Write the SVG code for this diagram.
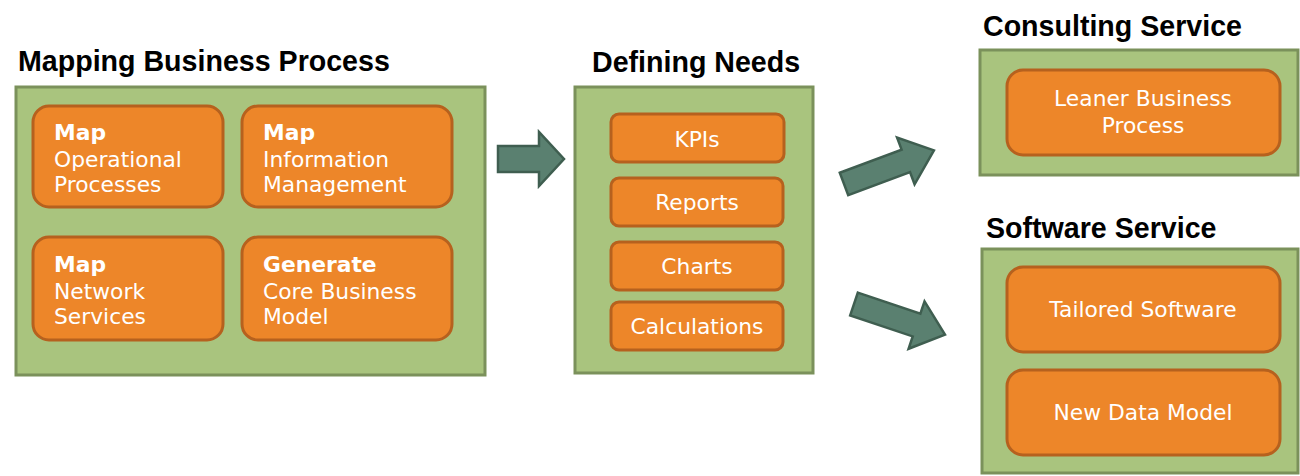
<svg xmlns="http://www.w3.org/2000/svg" width="1300" height="476" viewBox="0 0 1300 476">
<style>
.panel{fill:#a9c47e;stroke:#7b915b;stroke-width:3}
.box{fill:#ed8629;stroke:#b6611e;stroke-width:3}
.title{font-family:"Liberation Sans",Arial,sans-serif;font-weight:bold;font-size:28.6px;fill:#000}
.t{font-family:"DejaVu Sans","Liberation Sans",sans-serif;font-size:21.8px;fill:#fff}
.b{font-weight:bold}
.c{text-anchor:middle}
.arrow{fill:#5a8070;stroke:#3f5e50;stroke-width:2.5;stroke-linejoin:miter}
</style>
<rect width="1300" height="476" fill="#fff"/>
<g id="mapping">
<text class="title" x="18" y="71">Mapping Business Process</text>
<rect class="panel" x="16" y="87" width="469" height="288"/>
</g>
<g id="map-operational">
<rect class="box" x="33" y="106" width="190" height="101" rx="16"/>
<text class="t" x="54" y="140"><tspan class="b">Map</tspan><tspan x="54" y="167">Operational</tspan><tspan x="54" y="192">Processes</tspan></text>
</g>
<g id="map-information">
<rect class="box" x="242" y="106" width="210" height="101" rx="16"/>
<text class="t" x="263" y="140"><tspan class="b">Map</tspan><tspan x="263" y="167">Information</tspan><tspan x="263" y="192">Management</tspan></text>
</g>
<g id="map-network">
<rect class="box" x="33" y="237" width="190" height="103" rx="16"/>
<text class="t" x="54" y="272"><tspan class="b">Map</tspan><tspan x="54" y="299">Network</tspan><tspan x="54" y="324">Services</tspan></text>
</g>
<g id="generate-core">
<rect class="box" x="242" y="237" width="210" height="103" rx="16"/>
<text class="t" x="263" y="272"><tspan class="b">Generate</tspan><tspan x="263" y="299">Core Business</tspan><tspan x="263" y="324">Model</tspan></text>
</g>
<g id="defining">
<text class="title" x="592" y="72">Defining Needs</text>
<rect class="panel" x="575" y="87" width="238" height="286"/>
</g>
<g id="kpis">
<rect class="box" x="611" y="114" width="173" height="48" rx="8"/>
<text class="t c" x="697" y="147">KPIs</text>
</g>
<g id="reports">
<rect class="box" x="611" y="178" width="172" height="48" rx="8"/>
<text class="t c" x="697" y="210">Reports</text>
</g>
<g id="charts">
<rect class="box" x="611" y="242" width="172" height="48" rx="8"/>
<text class="t c" x="697" y="274">Charts</text>
</g>
<g id="calculations">
<rect class="box" x="611" y="302" width="172" height="48" rx="8"/>
<text class="t c" x="697" y="334">Calculations</text>
</g>
<g id="consulting">
<text class="title" x="983" y="36">Consulting Service</text>
<rect class="panel" x="980" y="50" width="318" height="125"/>
</g>
<g id="leaner">
<rect class="box" x="1007" y="70" width="273" height="85" rx="16"/>
<text class="t c" x="1143" y="106">Leaner Business<tspan x="1143" y="133">Process</tspan></text>
</g>
<g id="software">
<text class="title" x="986" y="238">Software Service</text>
<rect class="panel" x="982" y="249" width="316" height="224"/>
</g>
<g id="tailored">
<rect class="box" x="1007" y="267" width="273" height="85" rx="16"/>
<text class="t c" x="1143" y="317">Tailored Software</text>
</g>
<g id="datamodel">
<rect class="box" x="1007" y="370" width="273" height="85" rx="16"/>
<text class="t c" x="1143" y="420">New Data Model</text>
</g>
<g id="connectors">
<polygon class="arrow" points="498,146 539,146 539,132 564,159 539,186 539,172 498,172"/>
<polygon class="arrow" transform="translate(844,184) rotate(-20.5)" points="0,-12 66,-12 66,-25 96,0 66,25 66,12 0,12"/>
<polygon class="arrow" transform="translate(854,304) rotate(18.6)" points="0,-12 66,-12 66,-25 96,0 66,25 66,12 0,12"/>
</g>
</svg>
